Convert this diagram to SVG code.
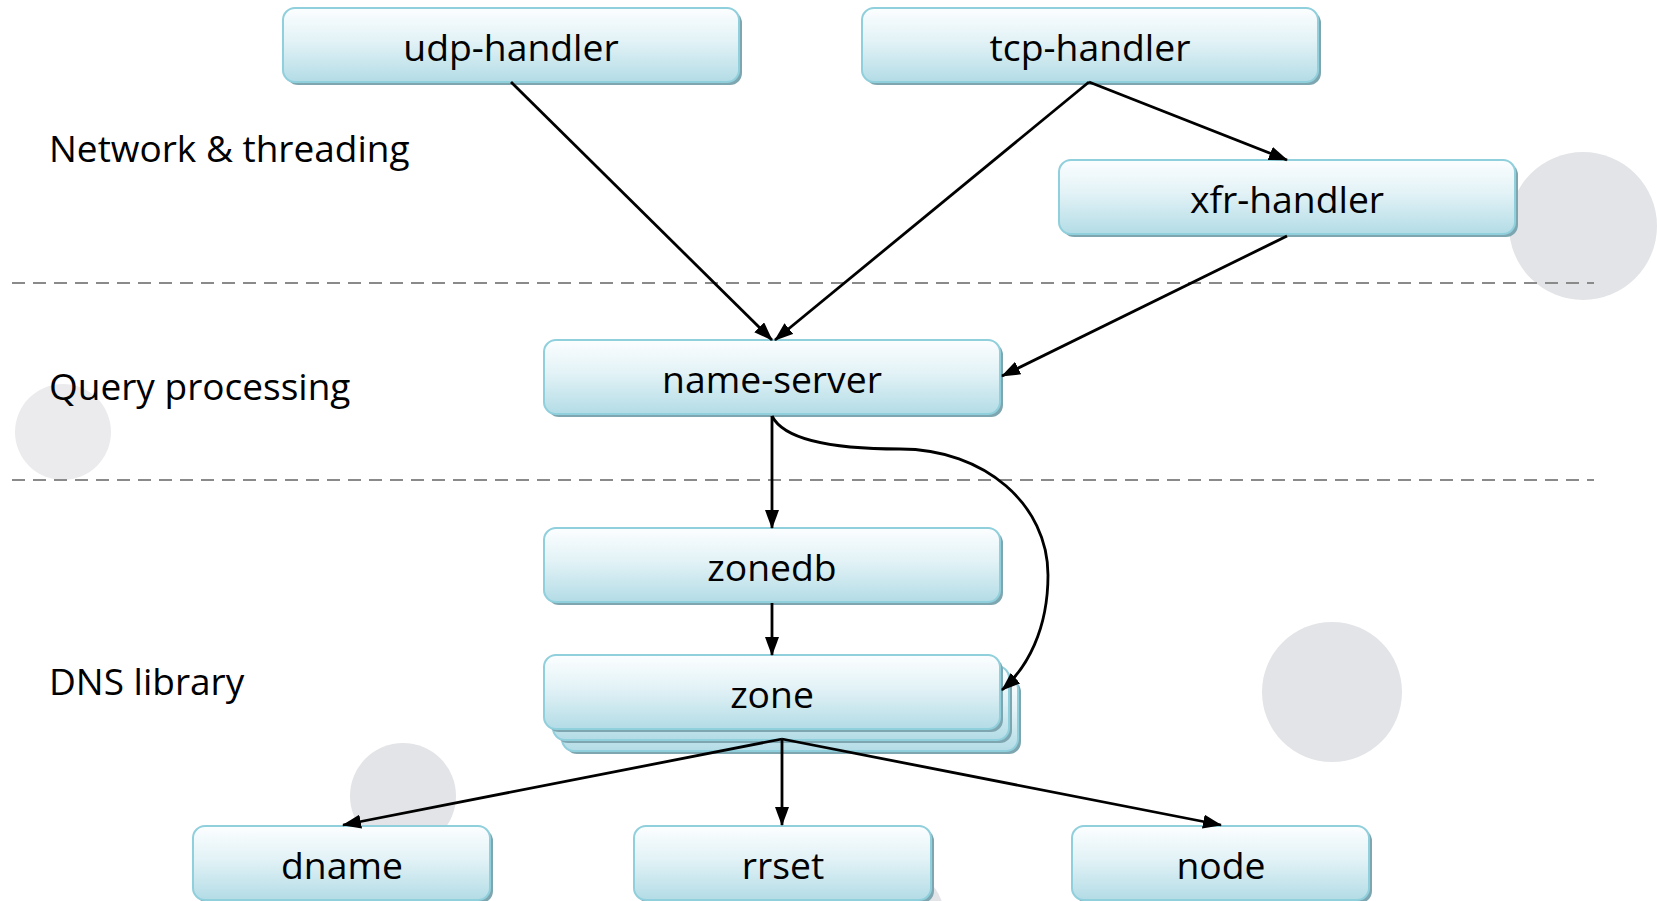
<svg xmlns="http://www.w3.org/2000/svg" width="1657" height="901" viewBox="0 0 1657 901">
<defs>
<linearGradient id="g" x1="0" y1="0" x2="0" y2="1">
<stop offset="0" stop-color="#fcfeff"/>
<stop offset="0.45" stop-color="#e2f2f6"/>
<stop offset="1" stop-color="#b3dce6"/>
</linearGradient>
<marker id="ah" markerWidth="19" markerHeight="14" refX="18" refY="7" orient="auto" markerUnits="userSpaceOnUse">
<path d="M0,0 L19,7 L0,14 Z" fill="#000"/>
</marker>
<style>
.bg{fill:#e3e4e7}
.sh{fill:#7ea6b0}
.bx{fill:url(#g);stroke:#90cfdc;stroke-width:2}
.lb{font-family:"Open Sans","DejaVu Sans",sans-serif;font-size:37.3px;fill:#000;text-anchor:middle}
.side{font-family:"Open Sans","DejaVu Sans",sans-serif;font-size:37px;fill:#000}
.dash{stroke:#8a8a8a;stroke-width:2;stroke-dasharray:13 8;fill:none}
.e{stroke:#000;stroke-width:2.8;fill:none;marker-end:url(#ah)}
</style>
</defs>
<rect width="1657" height="901" fill="#fff"/>
<g id="decor">
<circle class="bg" cx="1583" cy="226" r="74"/>
<circle cx="63" cy="432" r="48" fill="#ebebed"/>
<circle class="bg" cx="403" cy="796" r="53"/>
<circle class="bg" cx="1332" cy="692" r="70"/>
<circle class="bg" cx="890" cy="920" r="55"/>
</g>
<g id="layers">
<line class="dash" x1="12" y1="283" x2="1594" y2="283"/>
<line class="dash" x1="12" y1="480" x2="1594" y2="480"/>
<text class="side" x="49" y="162">Network &amp; threading</text>
<text class="side" x="49" y="400">Query processing</text>
<text class="side" x="49" y="695">DNS library</text>
</g>
<g id="udp-handler">
<rect class="sh" x="286" y="11" width="456" height="74" rx="12"/>
<rect class="bx" x="283" y="8" width="456" height="74" rx="12"/>
<text class="lb" x="511" y="61">udp-handler</text>
</g>
<g id="tcp-handler">
<rect class="sh" x="865" y="11" width="456" height="74" rx="12"/>
<rect class="bx" x="862" y="8" width="456" height="74" rx="12"/>
<text class="lb" x="1090" y="61">tcp-handler</text>
</g>
<g id="xfr-handler">
<rect class="sh" x="1062" y="163" width="456" height="74" rx="12"/>
<rect class="bx" x="1059" y="160" width="456" height="74" rx="12"/>
<text class="lb" x="1287" y="213">xfr-handler</text>
</g>
<g id="name-server">
<rect class="sh" x="547" y="343" width="456" height="74" rx="12"/>
<rect class="bx" x="544" y="340" width="456" height="74" rx="12"/>
<text class="lb" x="772" y="393">name-server</text>
</g>
<g id="zonedb">
<rect class="sh" x="547" y="531" width="456" height="74" rx="12"/>
<rect class="bx" x="544" y="528" width="456" height="74" rx="12"/>
<text class="lb" x="772" y="581">zonedb</text>
</g>
<g id="zone">
<rect class="sh" x="565" y="680" width="456" height="74" rx="12"/>
<rect class="bx" x="562" y="677" width="456" height="74" rx="12"/>
<rect class="sh" x="556" y="669" width="456" height="74" rx="12"/>
<rect class="bx" x="553" y="666" width="456" height="74" rx="12"/>
<rect class="sh" x="547" y="658" width="456" height="74" rx="12"/>
<rect class="bx" x="544" y="655" width="456" height="74" rx="12"/>
<text class="lb" x="772" y="708">zone</text>
</g>
<g id="dname">
<rect class="sh" x="196" y="829" width="297" height="74" rx="12"/>
<rect class="bx" x="193" y="826" width="297" height="74" rx="12"/>
<text class="lb" x="342" y="879">dname</text>
</g>
<g id="rrset">
<rect class="sh" x="637" y="829" width="297" height="74" rx="12"/>
<rect class="bx" x="634" y="826" width="297" height="74" rx="12"/>
<text class="lb" x="783" y="879">rrset</text>
</g>
<g id="node">
<rect class="sh" x="1075" y="829" width="297" height="74" rx="12"/>
<rect class="bx" x="1072" y="826" width="297" height="74" rx="12"/>
<text class="lb" x="1221" y="879">node</text>
</g>
<g id="connectors">
<path class="e" d="M511,82 L772,340"/>
<path class="e" d="M1089,82 L775,340"/>
<path class="e" d="M1089,82 L1287,160"/>
<path class="e" d="M1287,236 L1002,376"/>
<path class="e" d="M772,416 L772,528"/>
<path class="e" d="M772,416 C785,442 840,449 900,449 C985,449 1048,505 1048,575 C1048,630 1027,668 1002,690"/>
<path class="e" d="M772,603 L772,655"/>
<path class="e" d="M782,739 L343,825"/>
<path class="e" d="M782,739 L782,825"/>
<path class="e" d="M782,739 L1221,825"/>
</g>
</svg>
